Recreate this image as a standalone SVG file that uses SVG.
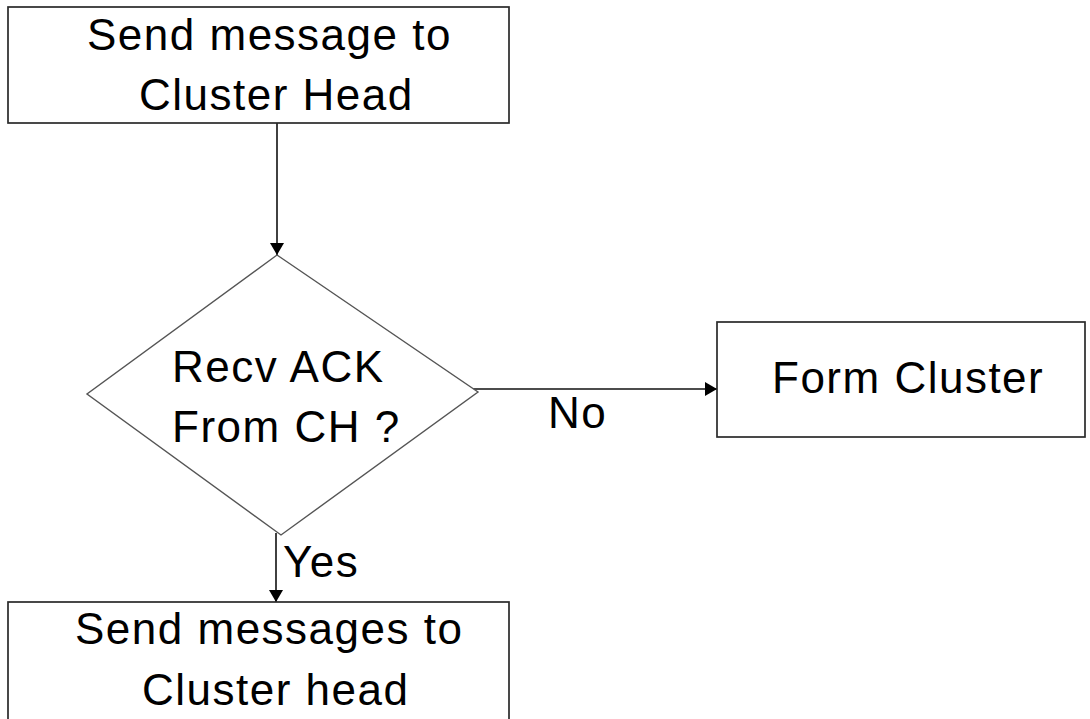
<svg xmlns="http://www.w3.org/2000/svg" width="1090" height="719" viewBox="0 0 1090 719">
  <style>
    .box { fill: #ffffff; stroke: #2a2a2a; stroke-width: 1.7; }
    .dec { fill: #ffffff; stroke: #555555; stroke-width: 1.4; }
    .lbl { font-family: "Liberation Sans", Arial, sans-serif; font-size: 44px; letter-spacing: 1.5px; fill: #000000; }
    .wire { fill: none; stroke: #111111; stroke-width: 1.6; }
  </style>
  <defs>
    <marker id="arrow" viewBox="0 0 12 16" refX="12" refY="8" markerWidth="12" markerHeight="16" markerUnits="userSpaceOnUse" orient="auto">
      <path d="M0,1 L12,8 L0,15 Z" fill="#000000"/>
    </marker>
  </defs>
  <rect width="1090" height="719" fill="#ffffff"/>

  <g id="connectors">
    <line class="wire" x1="277" y1="123" x2="277" y2="255" marker-end="url(#arrow)"/>
    <line class="wire" x1="473" y1="389" x2="717" y2="389" marker-end="url(#arrow)"/>
    <line class="wire" x1="276" y1="533" x2="276" y2="602" marker-end="url(#arrow)"/>
    <text class="lbl" x="548" y="428">No</text>
    <text class="lbl" x="283" y="577">Yes</text>
  </g>

  <g id="send-to-ch">
    <rect class="box" x="8" y="7" width="501" height="116"/>
    <text class="lbl" x="87" y="50">Send message to</text>
    <text class="lbl" x="139" y="110">Cluster Head</text>
  </g>

  <g id="recv-ack">
    <polygon class="dec" points="277,255 478,392 281,535 87,394"/>
    <text class="lbl" x="172" y="382">Recv ACK</text>
    <text class="lbl" x="172" y="442">From CH ?</text>
  </g>

  <g id="form-cluster">
    <rect class="box" x="717" y="322" width="368" height="115"/>
    <text class="lbl" x="772" y="393">Form Cluster</text>
  </g>

  <g id="send-msgs">
    <rect class="box" x="8" y="602" width="501" height="130"/>
    <text class="lbl" x="75" y="644">Send messages to</text>
    <text class="lbl" x="142" y="705">Cluster head</text>
  </g>
</svg>
